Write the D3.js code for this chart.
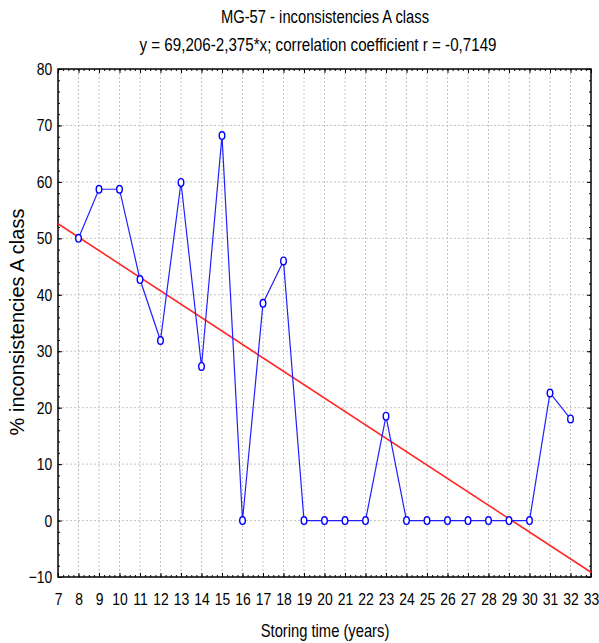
<!DOCTYPE html>
<html>
<head>
<meta charset="utf-8">
<script src="https://cdn.jsdelivr.net/npm/d3@7"></script>
<style>
  body { margin: 0; background: #fff; }
  text { fill: #000; font-family: "Liberation Sans", Arial, sans-serif; }
</style>
</head>
<body>
<script>
// Chart data
var years = [8, 9, 10, 11, 12, 13, 14, 15, 16, 17, 18, 19, 20, 21, 22, 23, 24, 25, 26, 27, 28, 29, 30, 31, 32];
var percents = [50, 58.7, 58.7, 42.7, 31.9, 59.9, 27.3, 68.2, 0, 38.5, 46, 0, 0, 0, 0, 18.5, 0, 0, 0, 0, 0, 0, 0, 22.6, 18];
var xTicks = d3.range(7, 34);
var yTicks = [-10, 0, 10, 20, 30, 40, 50, 60, 70, 80];
var fitIntercept = 69.206;
var fitSlope = -2.375;

var svgWidth = 599;
var svgHeight = 643;

// horizontal squeeze to imitate the narrow font of the original
var narrow = 0.82;

var margin = { top: 69, right: 8, bottom: 66, left: 58 };
var chartWidth = svgWidth - margin.left - margin.right;
var chartHeight = svgHeight - margin.top - margin.bottom;

var svg = d3.select("body")
  .append("svg")
  .attr("width", svgWidth)
  .attr("height", svgHeight);

var chartGroup = svg.append("g")
  .attr("transform", "translate(" + margin.left + ", " + margin.top + ")");

var xScale = d3.scaleLinear().domain([7, 33]).range([0, chartWidth]);
var yScale = d3.scaleLinear().domain([-10, 80]).range([chartHeight, 0]);

// dotted grid
chartGroup.append("g").selectAll("line")
  .data(xTicks.slice(1, -1))
  .enter().append("line")
  .attr("x1", function (d) { return xScale(d); })
  .attr("x2", function (d) { return xScale(d); })
  .attr("y1", 0).attr("y2", chartHeight)
  .attr("stroke", "#c4c4c4").attr("stroke-dasharray", "2,2");

chartGroup.append("g").selectAll("line")
  .data(yTicks.slice(1, -1))
  .enter().append("line")
  .attr("y1", function (d) { return yScale(d); })
  .attr("y2", function (d) { return yScale(d); })
  .attr("x1", 0).attr("x2", chartWidth)
  .attr("stroke", "#c4c4c4").attr("stroke-dasharray", "2,2");

// inward ticks on all four sides (major + minor)
var xMinor = d3.range(7, 33.01, 0.25);
var yMinor = d3.range(-10, 80.01, 2);

function tickSet(axis, values, size) {
  var g = chartGroup.append("g")
    .call(axis.tickValues(values).tickSize(size).tickFormat(""));
  g.select(".domain").remove();
  g.selectAll("line").attr("stroke", "#000");
  return g;
}

tickSet(d3.axisBottom(xScale), xMinor, -2).attr("transform", "translate(0," + chartHeight + ")");
tickSet(d3.axisBottom(xScale), xTicks, -4).attr("transform", "translate(0," + chartHeight + ")");
tickSet(d3.axisTop(xScale), xMinor, -2);
tickSet(d3.axisTop(xScale), xTicks, -4);
tickSet(d3.axisLeft(yScale), yMinor, -2);
tickSet(d3.axisLeft(yScale), yTicks, -4);
tickSet(d3.axisRight(yScale), yMinor, -2).attr("transform", "translate(" + chartWidth + ",0)");
tickSet(d3.axisRight(yScale), yTicks, -4).attr("transform", "translate(" + chartWidth + ",0)");

// frame
chartGroup.append("rect")
  .attr("width", chartWidth).attr("height", chartHeight)
  .attr("fill", "none").attr("stroke", "#000").attr("stroke-width", 1.5);

// tick labels
var bottomAxis = chartGroup.append("g")
  .attr("transform", "translate(0," + chartHeight + ")")
  .call(d3.axisBottom(xScale).tickValues(xTicks).tickSize(0).tickPadding(16));
bottomAxis.select(".domain").remove();
bottomAxis.attr("font-family", null).attr("font-size", null);
bottomAxis.selectAll("text")
  .attr("font-size", 17)
  .attr("transform", "scale(" + narrow + ",1)");

var leftAxis = chartGroup.append("g")
  .call(d3.axisLeft(yScale).tickValues(yTicks).tickSize(0).tickPadding(7));
leftAxis.select(".domain").remove();
leftAxis.attr("font-family", null).attr("font-size", null);
leftAxis.selectAll("text")
  .attr("font-size", 17)
  .attr("transform", "scale(" + narrow + ",1)");

// regression line
chartGroup.append("clipPath").attr("id", "plotClip")
  .append("rect").attr("width", chartWidth).attr("height", chartHeight);

chartGroup.append("line")
  .attr("clip-path", "url(#plotClip)")
  .attr("x1", xScale(7)).attr("y1", yScale(fitIntercept + fitSlope * 7))
  .attr("x2", xScale(33)).attr("y2", yScale(fitIntercept + fitSlope * 33))
  .attr("stroke", "#ff2828").attr("stroke-width", 1.6);

// data line and markers
var points = years.map(function (y, i) { return { year: y, value: percents[i] }; });

var drawLine = d3.line()
  .x(function (d) { return xScale(d.year); })
  .y(function (d) { return yScale(d.value); });

chartGroup.append("path")
  .attr("d", drawLine(points))
  .attr("fill", "none")
  .attr("stroke", "#2020ff")
  .attr("stroke-width", 1.2);

chartGroup.append("g").selectAll("ellipse")
  .data(points)
  .enter().append("ellipse")
  .attr("cx", function (d) { return xScale(d.year); })
  .attr("cy", function (d) { return yScale(d.value); })
  .attr("rx", 2.8).attr("ry", 3.8)
  .attr("fill", "#fff")
  .attr("stroke", "#0000ff")
  .attr("stroke-width", 1.4);

// titles
function narrowText(x, y, size, label) {
  svg.append("text")
    .attr("transform", "translate(" + x + "," + y + ") scale(" + narrow + ",1)")
    .attr("text-anchor", "middle")
    .attr("font-size", size)
    .text(label);
}

narrowText(325, 23, 18, "MG-57 - inconsistencies A class");
narrowText(318, 51, 18.5, "y = 69,206-2,375*x; correlation coefficient r = -0,7149");
narrowText(325, 637, 18, "Storing time (years)");

svg.append("text")
  .attr("transform", "translate(24," + 322 + ") rotate(-90)")
  .attr("text-anchor", "middle")
  .attr("font-size", 20)
  .text("% inconsistencies A class");
</script>
</body>
</html>
